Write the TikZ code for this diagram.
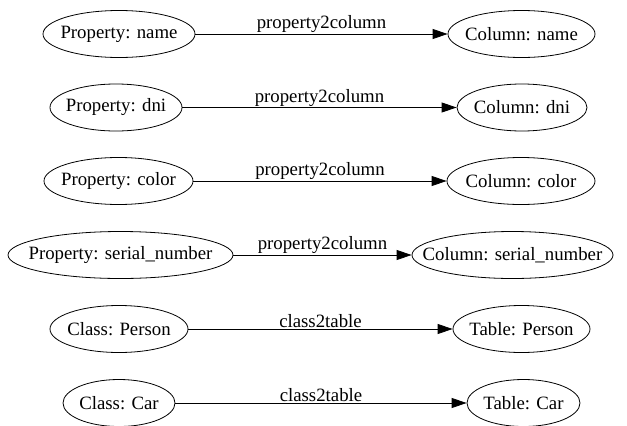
\documentclass[tikz,border=0pt]{standalone}
\usepackage{fontspec}
\setmainfont{Liberation Serif}
\usetikzlibrary{shapes.geometric,arrows.meta}
\newcommand{\ctext}[1]{\makebox[0pt]{#1}}
\begin{document}
\begin{tikzpicture}[x=1pt,y=-1pt,
  ent/.style={ellipse,draw,line width=0.8pt,inner sep=0pt,minimum height=47pt,font=\fontsize{18.8}{22}\selectfont},
  arr/.style={line width=0.8pt,-{Triangle[length=15pt,width=10pt]}},
  lbl/.style={font=\fontsize{18.8}{22}\selectfont,above,inner sep=1pt}]
\useasboundingbox (0,0) rectangle (627,426);
\node[ent,minimum width=152pt] (l1) at (119,34) {\ctext{Property: name}};
\node[ent,minimum width=147pt] (r1) at (521.5,34) {\ctext{Column: name}};
\node[ent,minimum width=132pt] (l2) at (116,107.5) {\ctext{Property: dni}};
\node[ent,minimum width=130pt] (r2) at (522,107.5) {\ctext{Column: dni}};
\node[ent,minimum width=149pt] (l3) at (118.5,181) {\ctext{Property: color}};
\node[ent,minimum width=148pt] (r3) at (521,181) {\ctext{Column: color}};
\node[ent,minimum width=225pt] (l4) at (120.5,255) {\ctext{Property: serial\_number}};
\node[ent,minimum width=201pt] (r4) at (512.5,255) {\ctext{Column: serial\_number}};
\node[ent,minimum width=138pt] (l5) at (119,329) {\ctext{Class: Person}};
\node[ent,minimum width=137pt] (r5) at (521.5,329) {\ctext{Table: Person}};
\node[ent,minimum width=112pt] (l6) at (119,403) {\ctext{Class: Car}};
\node[ent,minimum width=113pt] (r6) at (523.5,403) {\ctext{Table: Car}};
\draw[arr] (l1) -- node[lbl] {property2column} (r1);
\draw[arr] (l2) -- node[lbl] {property2column} (r2);
\draw[arr] (l3) -- node[lbl] {property2column} (r3);
\draw[arr] (l4) -- node[lbl] {property2column} (r4);
\draw[arr] (l5) -- node[lbl] {class2table} (r5);
\draw[arr] (l6) -- node[lbl] {class2table} (r6);
\end{tikzpicture}
\end{document}
